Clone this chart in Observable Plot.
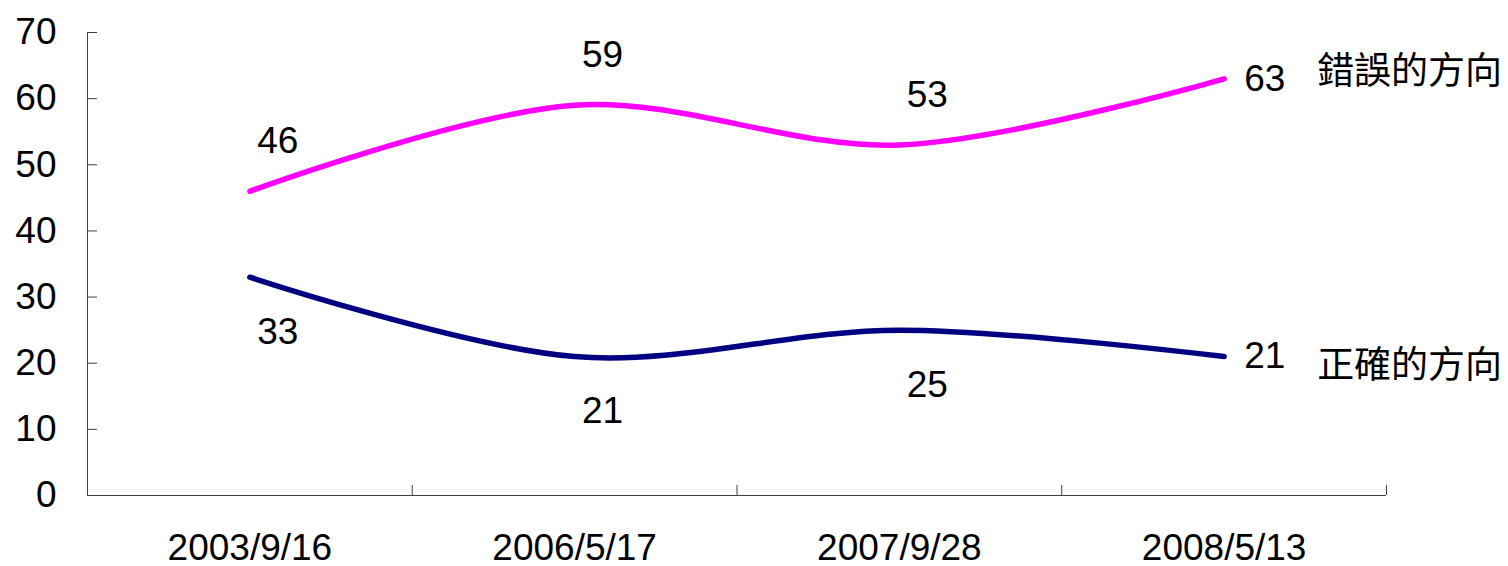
<!DOCTYPE html>
<html><head><meta charset="utf-8">
<script src="https://cdn.jsdelivr.net/npm/d3@7"></script>
<script src="https://cdn.jsdelivr.net/npm/@observablehq/plot@0.6"></script>
<style>body{margin:0;background:#fff} #chart{width:1508px;height:566px}</style>
</head><body><div id="chart"></div>
<script>
const categories = ["2003/9/16", "2006/5/17", "2007/9/28", "2008/5/13"];
const wrongValues = [46, 59, 53, 63];
const rightValues = [33, 21, 25, 21];
const seriesNames = ["錯誤的方向", "正確的方向"];
const yTicks = [0, 10, 20, 30, 40, 50, 60, 70];

const wrong = categories.map((c, i) => ({i, cat: c, value: wrongValues[i]}));
const right = categories.map((c, i) => ({i, cat: c, value: rightValues[i]}));
const boundaries = d3.range(categories.length + 1).map(k => k - 0.5);
const last = categories.length - 1;

const latin = "'Liberation Sans', Arial, sans-serif";
const cjk = "'Noto Sans CJK TC', 'Noto Sans CJK SC', sans-serif";
const axisColor = "#404040";

const plot = Plot.plot({
  width: 1508, height: 566,
  marginLeft: 87, marginRight: 122, marginTop: 32, marginBottom: 71,
  style: {fontFamily: latin, fontSize: "37px", background: "white", color: "black", overflow: "visible"},
  x: {type: "linear", domain: [-0.5, categories.length - 0.5]},
  y: {domain: [0, 70]},
  marks: [
    Plot.axisY({ticks: yTicks, tickSize: 0, tickPadding: 31, label: null}),
    Plot.ruleY(yTicks.slice(1), {stroke: axisColor, insetRight: 1289}),
    Plot.axisX({ticks: d3.range(categories.length), tickFormat: i => categories[i], tickSize: 0, tickPadding: 38, label: null}),
    Plot.ruleX(boundaries, {stroke: axisColor, insetTop: 453}),
    Plot.ruleX([-0.5], {stroke: axisColor}),
    Plot.ruleY([0], {stroke: axisColor}),
    Plot.line(wrong, {x: "i", y: "value", stroke: "#FF00FF", strokeWidth: 5.5, strokeLinecap: "round", curve: "catmull-rom"}),
    Plot.line(right, {x: "i", y: "value", stroke: "#000080", strokeWidth: 5.5, strokeLinecap: "round", curve: "catmull-rom"}),
    Plot.text(wrong.filter(d => d.i < last), {x: "i", y: "value", text: "value", dx: 28, dy: -50, fill: "black"}),
    Plot.text(right.filter(d => d.i < last), {x: "i", y: "value", text: "value", dx: 28, dy: 55, fill: "black"}),
    Plot.text([wrong[last], right[last]], {x: "i", y: "value", text: "value", dx: 20, textAnchor: "start", fill: "black"}),
    Plot.text([wrong[last]], {x: "i", y: "value", text: () => seriesNames[0], dx: 93, dy: -7, textAnchor: "start", fontFamily: cjk, fill: "black"}),
    Plot.text([right[last]], {x: "i", y: "value", text: () => seriesNames[1], dx: 93, dy: 10, textAnchor: "start", fontFamily: cjk, fill: "black"})
  ]
});
document.getElementById("chart").appendChild(plot);
</script>
</body></html>
